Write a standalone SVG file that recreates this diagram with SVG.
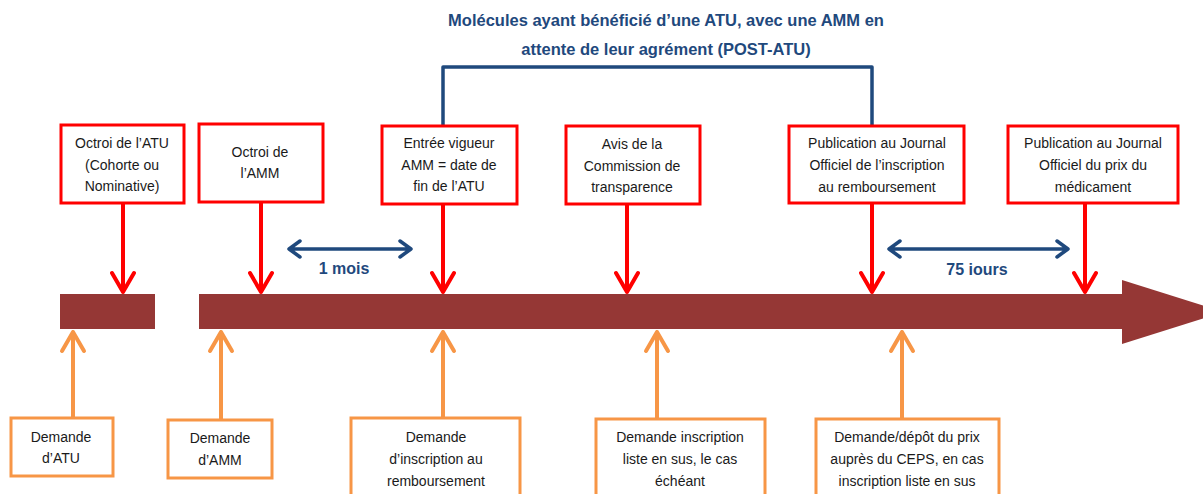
<svg xmlns="http://www.w3.org/2000/svg" width="1203" height="494" viewBox="0 0 1203 494">
<style>
.rbox{fill:#fff;stroke:#ff0000;stroke-width:3}
.obox{fill:#fff;stroke:#f79646;stroke-width:3}
.t{font-family:"Liberation Sans",Arial,sans-serif;font-size:14px;fill:#1a1a1a;text-anchor:middle;dominant-baseline:central}
.bt{font-family:"Liberation Sans",Arial,sans-serif;font-weight:bold;fill:#1f497d;text-anchor:middle;dominant-baseline:central}
.ra{fill:none;stroke:#ff0000;stroke-width:4;stroke-linejoin:round;stroke-linecap:round}
.oa{fill:none;stroke:#f79646;stroke-width:4;stroke-linejoin:round;stroke-linecap:round}
.ba{fill:none;stroke:#1f497d;stroke-width:3.5;stroke-linejoin:round;stroke-linecap:round}
</style>
<rect width="1203" height="494" fill="#fff"/>

<g id="timeline">
<rect x="60" y="294" width="1064" height="35" fill="#953735"/>
<polygon points="1122,280 1224,312 1122,344" fill="#953735"/>
<rect x="155" y="294" width="44" height="35" fill="#fff"/>
</g>

<g id="title">
<text class="bt" x="666" y="20" font-size="16.5">Molécules ayant bénéficié d’une ATU, avec une AMM en</text>
<text class="bt" x="666" y="49" font-size="16.5">attente de leur agrément (POST-ATU)</text>
</g>

<g id="connectors">
<path class="ba" d="M443,126 V67 H872 V126"/>
<path class="ra" d="M123,204 V292 M112,273 L123,292 L134,273"/>
<path class="ra" d="M261,203 V292 M250,273 L261,292 L272,273"/>
<path class="ra" d="M443,205 V292 M432,273 L443,292 L454,273"/>
<path class="ra" d="M627,205 V292 M616,273 L627,292 L638,273"/>
<path class="ra" d="M872,204 V292 M861,273 L872,292 L883,273"/>
<path class="ra" d="M1085,204 V292 M1074,273 L1085,292 L1096,273"/>
<path class="oa" d="M73,418 V332 M62,351 L73,332 L84,351"/>
<path class="oa" d="M221,420 V332 M210,351 L221,332 L232,351"/>
<path class="oa" d="M443,418 V332 M432,351 L443,332 L454,351"/>
<path class="oa" d="M657,419 V332 M646,351 L657,332 L668,351"/>
<path class="oa" d="M902,419 V332 M891,351 L902,332 L913,351"/>
<path class="ba" d="M289,249 H411 M300,241 L289,249 L300,257 M400,241 L411,249 L400,257"/>
<path class="ba" d="M889,249 H1068 M900,241 L889,249 L900,257 M1057,241 L1068,249 L1057,257"/>
</g>

<g id="label-1mois"><text class="bt" x="344" y="268" font-size="16">1 mois</text></g>
<g id="label-75jours"><text class="bt" x="977" y="269" font-size="16">75 iours</text></g>

<g id="octroi-atu">
<rect class="rbox" x="61" y="125" width="123" height="78"/>
<text class="t" x="122" y="143">Octroi de l’ATU</text>
<text class="t" x="122" y="165">(Cohorte ou</text>
<text class="t" x="122" y="186">Nominative)</text>
</g>
<g id="octroi-amm">
<rect class="rbox" x="199" y="124" width="124" height="78"/>
<text class="t" x="260" y="152">Octroi de</text>
<text class="t" x="260" y="173">l’AMM</text>
</g>
<g id="entree-vigueur">
<rect class="rbox" x="382" y="126" width="135" height="78"/>
<text class="t" x="449" y="143">Entrée vigueur</text>
<text class="t" x="449" y="165">AMM = date de</text>
<text class="t" x="449" y="186">fin de l’ATU</text>
</g>
<g id="avis-commission">
<rect class="rbox" x="566" y="126" width="134" height="78"/>
<text class="t" x="632" y="144">Avis de la</text>
<text class="t" x="632" y="166">Commission de</text>
<text class="t" x="632" y="187">transparence</text>
</g>
<g id="publication-inscription">
<rect class="rbox" x="789" y="126" width="175" height="77"/>
<text class="t" x="877" y="143">Publication au Journal</text>
<text class="t" x="877" y="165">Officiel de l’inscription</text>
<text class="t" x="877" y="187">au remboursement</text>
</g>
<g id="publication-prix">
<rect class="rbox" x="1008" y="126" width="170" height="77"/>
<text class="t" x="1093" y="143">Publication au Journal</text>
<text class="t" x="1093" y="165">Officiel du prix du</text>
<text class="t" x="1093" y="187">médicament</text>
</g>

<g id="demande-atu">
<rect class="obox" x="11" y="418" width="102" height="58"/>
<text class="t" x="61" y="437">Demande</text>
<text class="t" x="61" y="458">d’ATU</text>
</g>
<g id="demande-amm">
<rect class="obox" x="168" y="420" width="104" height="58"/>
<text class="t" x="220" y="438">Demande</text>
<text class="t" x="220" y="460">d’AMM</text>
</g>
<g id="demande-inscription">
<rect class="obox" x="351" y="418" width="169" height="80"/>
<text class="t" x="436" y="437">Demande</text>
<text class="t" x="436" y="459">d’inscription au</text>
<text class="t" x="436" y="481">remboursement</text>
</g>
<g id="demande-liste">
<rect class="obox" x="596" y="419" width="169" height="80"/>
<text class="t" x="680" y="437">Demande inscription</text>
<text class="t" x="680" y="459">liste en sus, le cas</text>
<text class="t" x="680" y="481">échéant</text>
</g>
<g id="demande-prix">
<rect class="obox" x="816" y="419" width="183" height="80"/>
<text class="t" x="907" y="437">Demande/dépôt du prix</text>
<text class="t" x="907" y="459">auprès du CEPS, en cas</text>
<text class="t" x="907" y="481">inscription liste en sus</text>
</g>
</svg>
